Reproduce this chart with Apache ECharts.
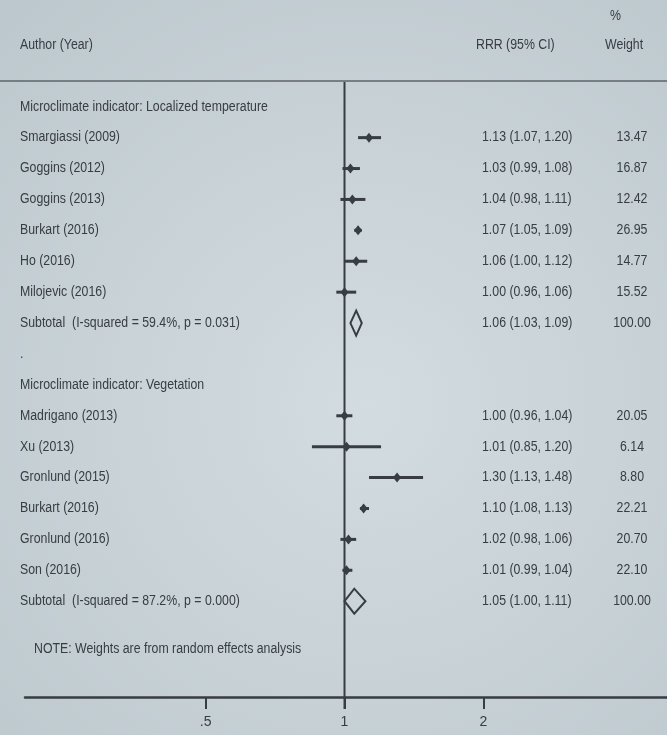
<!DOCTYPE html>
<html>
<head>
<meta charset="utf-8">
<script src="https://cdn.jsdelivr.net/npm/echarts@6/dist/echarts.min.js"></script>
<style>
html, body { margin: 0; padding: 0; }
#chart { width: 667px; height: 735px; }
</style>
</head>
<body>
<div id="chart"></div>
<script>
// forest plot rows, top to bottom
var rowLabels = [
    'Microclimate indicator: Localized temperature',
    'Smargiassi (2009)',
    'Goggins (2012)',
    'Goggins (2013)',
    'Burkart (2016)',
    'Ho (2016)',
    'Milojevic (2016)',
    'Subtotal  (I-squared = 59.4%, p = 0.031)',
    '.',
    'Microclimate indicator: Vegetation',
    'Madrigano (2013)',
    'Xu (2013)',
    'Gronlund (2015)',
    'Burkart (2016)',
    'Gronlund (2016)',
    'Son (2016)',
    'Subtotal  (I-squared = 87.2%, p = 0.000)'
];
var rowKind = ['head', 'study', 'study', 'study', 'study', 'study', 'study', 'sub', 'blank',
               'head', 'study', 'study', 'study', 'study', 'study', 'study', 'sub'];
var rrr    = [null, 1.13, 1.03, 1.04, 1.07, 1.06, 1.00, 1.06, null, null, 1.00, 1.01, 1.30, 1.10, 1.02, 1.01, 1.05];
var ciLow  = [null, 1.07, 0.99, 0.98, 1.05, 1.00, 0.96, 1.03, null, null, 0.96, 0.85, 1.13, 1.08, 0.98, 0.99, 1.00];
var ciHigh = [null, 1.20, 1.08, 1.11, 1.09, 1.12, 1.06, 1.09, null, null, 1.04, 1.20, 1.48, 1.13, 1.06, 1.04, 1.11];
var weight = [null, 13.47, 16.87, 12.42, 26.95, 14.77, 15.52, 100.00, null, null, 20.05, 6.14, 8.80, 22.21, 20.70, 22.10, 100.00];

var noteText = 'NOTE: Weights are from random effects analysis';
var noteRow = 17.55;

var xTicks = [0.5, 1, 2];
var xTickText = { '0.5': '.5', '1': '1', '2': '2' };

var font = '"Liberation Sans", Arial, sans-serif';
var ink = '#373d42';
var squeeze = 0.88;   // the original type is a narrow face

var chart = echarts.init(document.getElementById('chart'));

function txt(x, y, s, align) {
    return {
        type: 'text',
        x: x, y: y,
        scaleX: squeeze,
        style: { x: 0, y: 0, text: s, font: '14px ' + font, fill: ink,
                 align: align || 'left', verticalAlign: 'middle' }
    };
}

function renderRow(params, api) {
    var i = params.dataIndex;
    var y = api.coord([1, i])[1];
    var kids = [txt(20, y, rowLabels[i])];
    if (rrr[i] != null) {
        var p = api.coord([rrr[i], i]);
        var lo = api.coord([ciLow[i], i]);
        var hi = api.coord([ciHigh[i], i]);
        if (rowKind[i] === 'study') {
            kids.push({
                type: 'line',
                shape: { x1: lo[0], y1: y, x2: hi[0], y2: y },
                style: { stroke: ink, lineWidth: 3 }
            });
            kids.push({
                type: 'polygon',
                shape: { points: [[p[0] - 4, y], [p[0], y - 5], [p[0] + 4, y], [p[0], y + 5]] },
                style: { fill: ink }
            });
        } else {
            kids.push({
                type: 'polygon',
                shape: { points: [[lo[0], y], [p[0], y - 12.5], [hi[0], y], [p[0], y + 12.5]] },
                style: { fill: 'none', stroke: ink, lineWidth: 2 }
            });
        }
        var s = rrr[i].toFixed(2) + ' (' + ciLow[i].toFixed(2) + ', ' + ciHigh[i].toFixed(2) + ')';
        kids.push(txt(482, y, s));
        kids.push(txt(632, y, weight[i].toFixed(2), 'center'));
    }
    return { type: 'group', children: kids };
}

chart.setOption({
    animation: false,
    backgroundColor: {
        type: 'radial', x: 0.55, y: 0.55, r: 0.8,
        colorStops: [{ offset: 0, color: '#d3dce0' }, { offset: 1, color: '#bdc8ce' }]
    },
    grid: { left: 25, right: 0, top: 82, bottom: 38 },
    xAxis: {
        type: 'log',
        logBase: 2,
        min: 0.203,
        max: 5.0,
        position: 'bottom',
        splitLine: { show: false },
        axisLine: { onZero: false, lineStyle: { color: ink, width: 2.5 } },
        axisTick: { customValues: xTicks, length: 12, lineStyle: { color: ink, width: 2 } },
        axisLabel: {
            customValues: xTicks,
            margin: 18,
            color: ink,
            fontSize: 14,
            fontFamily: font,
            formatter: function (v) { return xTickText[String(v)] || ''; }
        }
    },
    yAxis: { type: 'value', inverse: true, min: -0.8, max: 19.1, show: false },
    graphic: [
        txt(20, 45, 'Author (Year)'),
        txt(476, 45, 'RRR (95% CI)'),
        txt(610, 16, '%'),
        txt(605, 45, 'Weight'),
        {
            type: 'line',
            shape: { x1: 0, y1: 81, x2: 667, y2: 81 },
            style: { stroke: '#5d656a', lineWidth: 1.5 }
        }
    ],
    series: [
        {
            // reference line at RRR = 1
            type: 'custom',
            clip: false,
            data: [[1, 0]],
            renderItem: function (params, api) {
                var top = api.coord([1, -0.8]);
                var bot = api.coord([1, 19.1]);
                return {
                    type: 'line',
                    shape: { x1: top[0], y1: top[1], x2: bot[0], y2: bot[1] + 12 },
                    style: { stroke: ink, lineWidth: 2 }
                };
            }
        },
        {
            type: 'custom',
            clip: false,
            data: rowLabels.map(function (t, i) { return [rrr[i] || 1, i]; }),
            renderItem: renderRow
        },
        {
            type: 'custom',
            clip: false,
            data: [[1, noteRow]],
            renderItem: function (params, api) {
                var y = api.coord([1, noteRow])[1];
                return txt(34, y, noteText);
            }
        }
    ]
});
</script>
</body>
</html>
